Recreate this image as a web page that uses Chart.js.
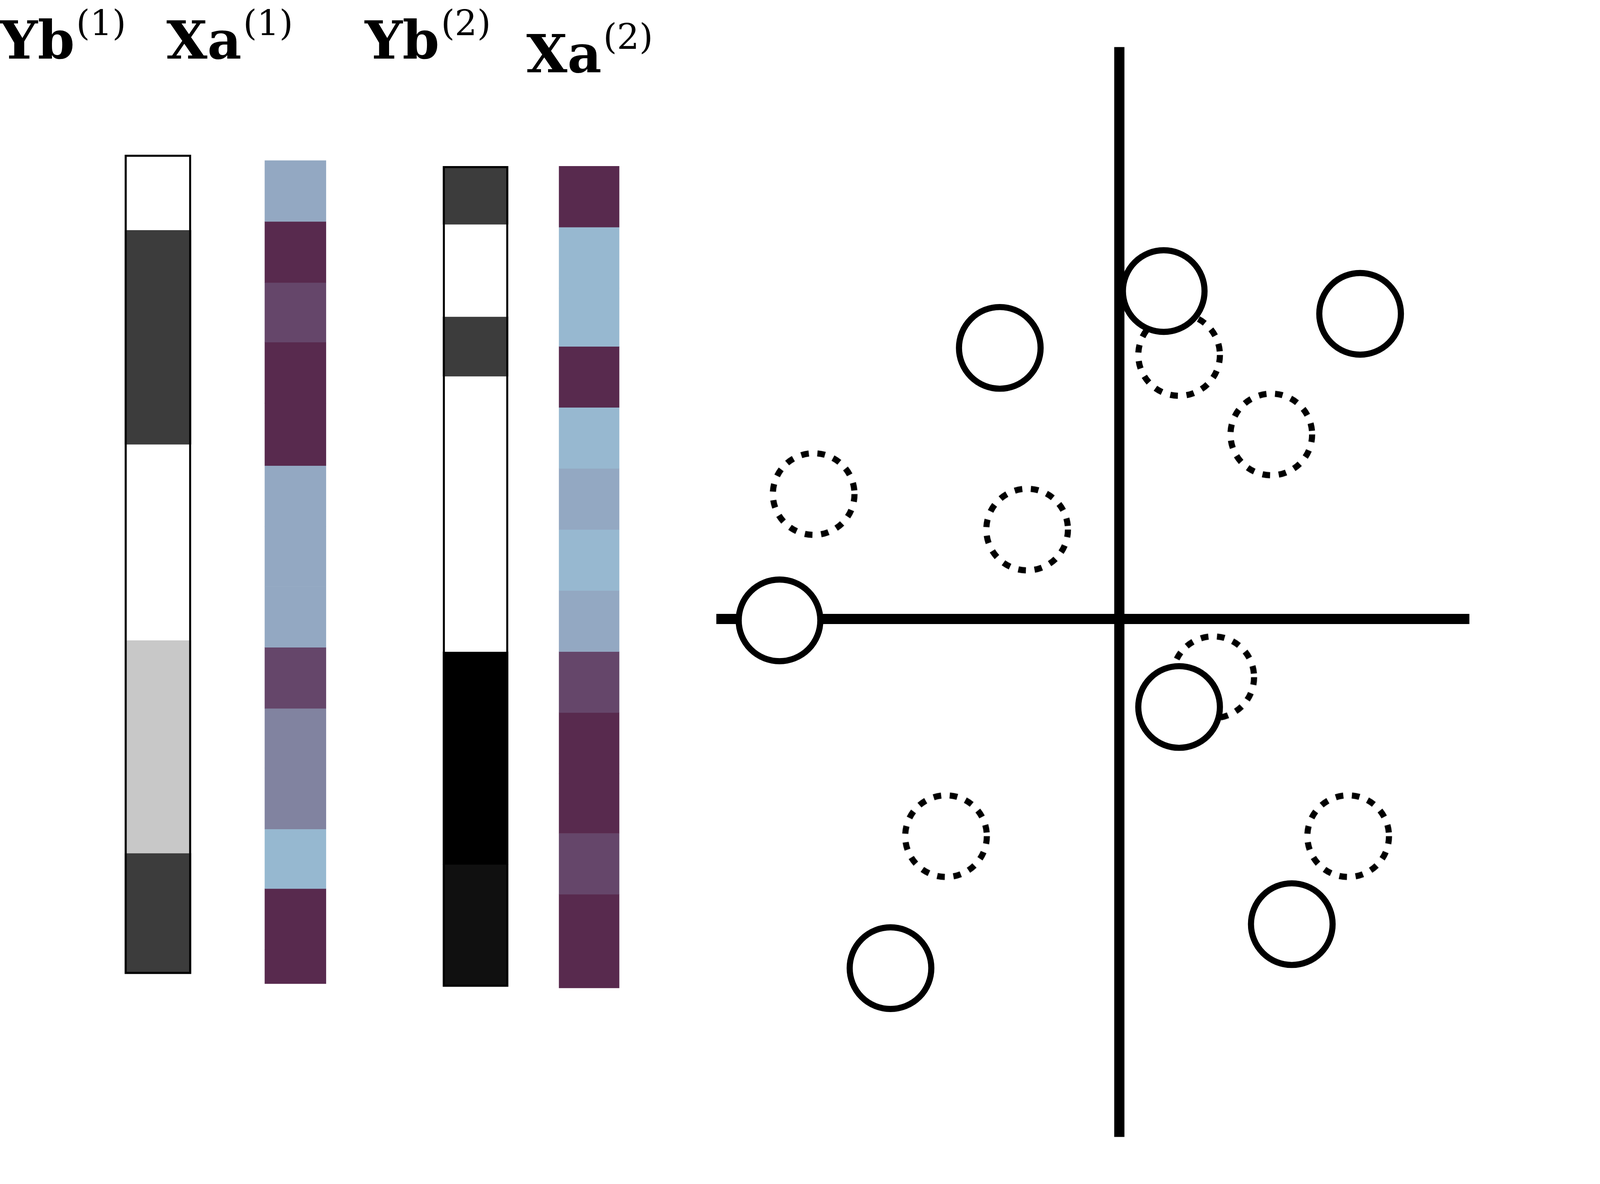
<!DOCTYPE html>
<html><head><meta charset="utf-8">
<script src="https://cdn.jsdelivr.net/npm/chart.js@4"></script>
<style>
html,body{margin:0;padding:0;background:#fff;overflow:hidden;width:100vw;height:100vh}
#wrap{position:relative;width:100vw;height:100vh}
#cw{position:absolute;left:0;top:0;width:100vw;height:100vh}
.lab{position:absolute;font-family:"DejaVu Serif";font-weight:bold;font-size:3.3vw;line-height:1;color:#000;white-space:nowrap}
.lab sup{font-weight:normal;font-size:2.2vw;vertical-align:0;position:relative;top:-1.45vw;margin-left:0.1vw}
</style></head>
<body><div id="wrap"><div id="cw"><canvas id="c"></canvas></div>
<div class="lab" style="left:0vw;top:0.85vw">Yb<sup>(1)</sup></div>
<div class="lab" style="left:10.4vw;top:0.85vw">Xa<sup>(1)</sup></div>
<div class="lab" style="left:22.8vw;top:0.85vw">Yb<sup>(2)</sup></div>
<div class="lab" style="left:32.9vw;top:1.7vw">Xa<sup>(2)</sup></div>
</div>
<script>
// strip labels
const stripNames = ["Yb(1)","Xa(1)","Yb(2)","Xa(2)"];
const stripX = [32, 193, 404, 537];
const stripW = [65, 60, 64, 59];
const stripOutline = [true, false, true, false];
// cell boundaries (top to bottom) and colours per strip
const yb1Edges = [76,129,280,418,568,653];
const yb1Colors = ["#ffffff","#3c3c3c","#ffffff","#c8c8c8","#3c3c3c"];
const xa1Edges = [80,123,166,208,251,295,338,380,423,466,508,551,593,636,660];
const xa1Colors = ["#93a8c2","#582a4e","#65466a","#582a4e","#582a4e","#93a8c2","#93a8c2","#93a8c2","#65466a","#8183a0","#8183a0","#96b8d0","#582a4e","#582a4e"];
const yb2Edges = [84,125,190,232,426,576,662];
const yb2Colors = ["#3c3c3c","#ffffff","#3c3c3c","#ffffff","#000000","#101010"];
const xa2Edges = [84,127,170,211,254,297,340,383,426,469,512,554,597,663];
const xa2Colors = ["#582a4e","#97b8d0","#97b8d0","#582a4e","#97b8d0","#93a8c2","#97b8d0","#93a8c2","#65466a","#582a4e","#582a4e","#65466a","#582a4e"];
// scatter
const solidX = [1018,1210,1440,760,1228,890,1360];
const solidY = [212,172,188,404,465,649,618];
const dottedX = [800,1050,1228,1336,1268,955,1426];
const dottedY = [315,340,217,273,444,556,556];
const hAxis = [{x:686,y:403},{x:1568,y:403}];
const vAxis = [{x:1158,y:0},{x:1158,y:768}];

const S = window.innerWidth/1568;
const datasets = [];
const edges=[yb1Edges,xa1Edges,yb2Edges,xa2Edges];
const cols=[yb1Colors,xa1Colors,yb2Colors,xa2Colors];
for(let s=0;s<4;s++){
  for(let i=0;i<cols[s].length;i++){
    datasets.push({type:'bar',label:stripNames[s],data:[{x:stripX[s],y:[edges[s][i],edges[s][i+1]]}],
      backgroundColor:cols[s][i],borderWidth:0,barThickness:stripW[s]*S,grouped:false,order:5});
  }
  if(stripOutline[s]){
    const e=edges[s];
    datasets.push({type:'bar',label:stripNames[s],data:[{x:stripX[s],y:[e[0],e[e.length-1]]}],
      backgroundColor:'rgba(0,0,0,0)',borderColor:'#000',borderWidth:Math.max(1,1.8*S),borderSkipped:false,barThickness:stripW[s]*S,grouped:false,order:4});
  }
}
datasets.push({type:'line',data:hAxis,borderColor:'#000',borderWidth:10*S,pointRadius:0,order:3});
datasets.push({type:'line',data:vAxis,borderColor:'#000',borderWidth:10*S,pointRadius:0,order:3});
// dotted circle image
const R=40*S, LW=6*S;
const dpr=window.devicePixelRatio||1;
const img=document.createElement('canvas');
const side=Math.ceil(2*R+LW*2);
img.width=img.height=Math.ceil(side*dpr);
img.style.width=side+'px';
const ic=img.getContext('2d');ic.scale(dpr,dpr);ic.lineWidth=LW;ic.setLineDash([7.5*S,8.5*S]);ic.strokeStyle='#000';
ic.beginPath();ic.arc(side/2,side/2,R,0,Math.PI*2);ic.stroke();
const dimg=new Image(side,side);dimg.src=img.toDataURL();
datasets.push({type:'scatter',data:dottedX.map((x,i)=>({x,y:dottedY[i]})),pointStyle:dimg,order:2});
datasets.push({type:'scatter',data:solidX.map((x,i)=>({x,y:solidY[i]})),pointRadius:R,pointBorderWidth:LW,
  pointBorderColor:'#000',pointBackgroundColor:'#fff',order:1});

const draw=()=>new Chart(document.getElementById('c'),{
  data:{datasets},
  options:{responsive:true,maintainAspectRatio:false,animation:false,
    layout:{padding:0},
    plugins:{legend:{display:false},tooltip:{enabled:false}},
    scales:{x:{type:'linear',min:0,max:1568,display:false},
            y:{type:'linear',min:0,max:768,reverse:true,display:false}}}
});
if(dimg.complete) draw(); else dimg.onload=draw;
</script></body></html>
